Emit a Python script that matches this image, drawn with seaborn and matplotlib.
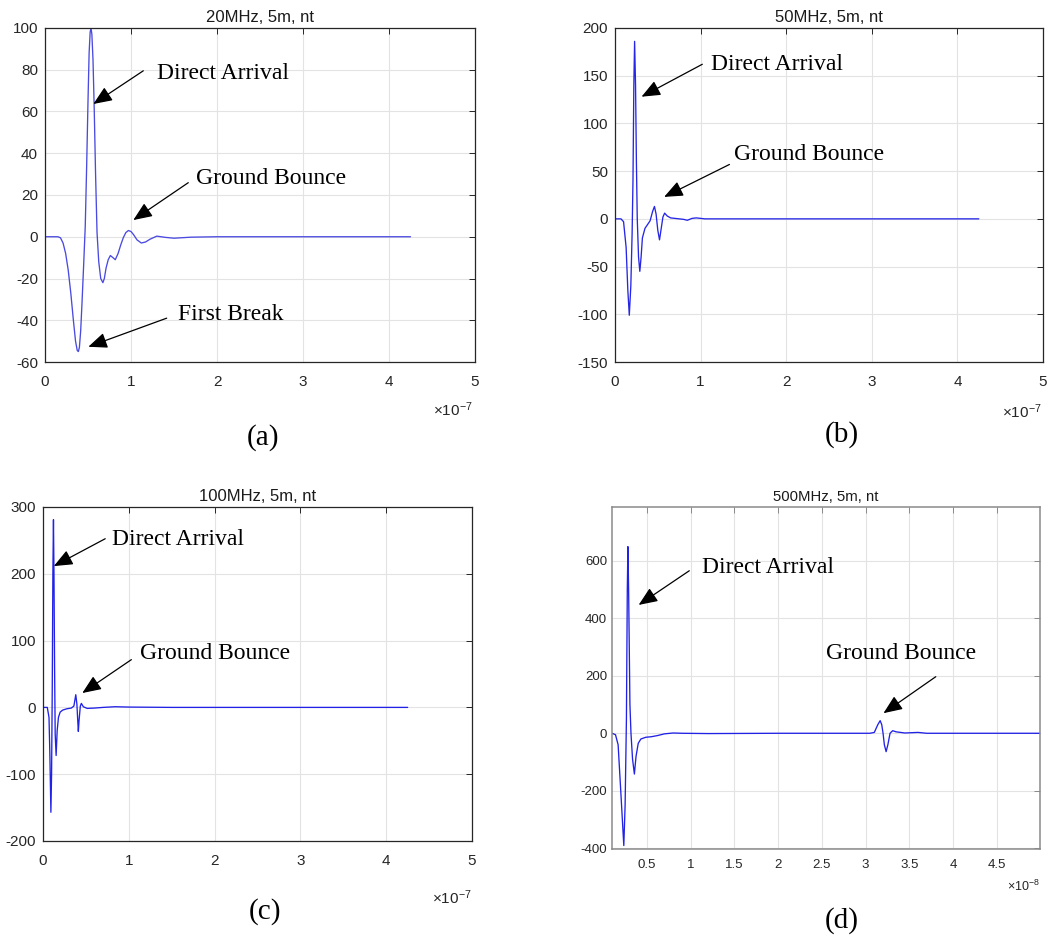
import numpy as np
import matplotlib
matplotlib.use("Agg")
import matplotlib.pyplot as plt
import seaborn as sns
from matplotlib.ticker import FuncFormatter, FixedLocator

# ---------------------------------------------------------------------------
# Received traces at 5 m offset for four source frequencies.
# Time axes are given in the units shown on each x axis (x1e-7 s or x1e-8 s).
# ---------------------------------------------------------------------------
t_20 = [0.00, 0.15, 0.18, 0.21, 0.24, 0.27, 0.30, 0.33, 0.355, 0.375, 0.388,
        0.40, 0.415, 0.43, 0.45, 0.468, 0.485, 0.50, 0.513, 0.525, 0.535,
        0.545, 0.558, 0.572, 0.588, 0.605, 0.625, 0.648, 0.673, 0.69, 0.71,
        0.735, 0.76, 0.79, 0.817, 0.85, 0.88, 0.91, 0.94, 0.97, 1.00, 1.03,
        1.07, 1.12, 1.17, 1.22, 1.30, 1.40, 1.50, 1.70, 2.00, 4.25]
v_20 = [0, 0, -0.5, -3, -8, -16, -27, -40, -50, -54.5, -55,
        -53, -45, -32, -13, 5, 35, 65, 88, 98, 100,
        97, 85, 62, 30, 2, -12, -20, -22, -20, -15,
        -11, -9, -10, -11, -8, -4, -0.5, 2, 3, 2.5, 1,
        -1.5, -3, -2.5, -1.2, 0.3, -0.3, -0.7, -0.2, 0, 0]

t_50 = [0.00, 0.07, 0.10, 0.13, 0.15, 0.167, 0.185, 0.20, 0.21, 0.22, 0.229,
        0.24, 0.25, 0.26, 0.275, 0.29, 0.305, 0.32, 0.35, 0.38, 0.41, 0.44,
        0.461, 0.48, 0.50, 0.52, 0.54, 0.56, 0.58, 0.61, 0.65, 0.70, 0.80,
        0.845, 0.90, 0.95, 1.05, 4.25]
v_50 = [0, 0, -3, -30, -75, -101, -70, -15, 40, 140, 186,
        140, 60, 0, -40, -55, -40, -20, -10, -6, -2, 8,
        13, 5, -12, -22, -10, 2, 6, 3, 1, 0.5, -0.5,
        -1.5, 0.5, 1, 0, 0]

t_100 = [0.00, 0.05, 0.07, 0.08, 0.092, 0.10, 0.108, 0.115, 0.122, 0.128,
         0.135, 0.142, 0.153, 0.165, 0.18, 0.20, 0.23, 0.28, 0.33, 0.36,
         0.382, 0.395, 0.405, 0.412, 0.42, 0.435, 0.447, 0.47, 0.515, 0.60,
         0.70, 0.84, 1.00, 1.50, 4.25]
v_100 = [0, 0, -15, -70, -157, -100, 30, 200, 281, 200,
         60, -40, -72, -35, -15, -7, -4, -2, -1, 2,
         19, 5, -20, -36, -20, 2, 6, 1, -1.5, -1,
         0, 1, 0.5, 0, 0]

t_500 = [0.10, 0.14, 0.17, 0.20, 0.235, 0.25, 0.265, 0.275, 0.282, 0.29,
         0.305, 0.317, 0.335, 0.356, 0.375, 0.40, 0.43, 0.485, 0.55, 0.62,
         0.70, 0.80, 0.90, 1.20, 2.00, 3.05, 3.10, 3.14, 3.167, 3.185,
         3.20, 3.215, 3.235, 3.255, 3.28, 3.31, 3.35, 3.45, 3.60, 3.70, 5.00]
v_500 = [0, -5, -40, -200, -391, -250, 50, 500, 650, 500,
         100, 0, -90, -142, -80, -35, -20, -14, -12, -8,
         -2, 1, 0, -1, 0, 0, 3, 30, 44, 30,
         0, -40, -64, -40, 0, 9, 5, 1, 3, 0, 0]

titles = ["20MHz, 5m, nt", "50MHz, 5m, nt", "100MHz, 5m, nt", "500MHz, 5m, nt"]
captions = ["(a)", "(b)", "(c)", "(d)"]
exponents = [-7, -7, -7, -8]

# ---------------------------------------------------------------------------
sns.set_theme(style="whitegrid")
plt.rcParams.update({
    "font.family": ["Liberation Sans", "DejaVu Sans"],
    "axes.unicode_minus": False,
    "mathtext.fontset": "custom",
    "mathtext.rm": "Liberation Sans",
    "mathtext.it": "Liberation Sans:italic",
    "mathtext.bf": "Liberation Sans:bold",
    "mathtext.default": "regular",
})

W, H = 1061, 936
fig = plt.figure(figsize=(W / 100, H / 100), dpi=100)
fig.patch.set_facecolor("white")


def add_axes_px(left, right, top, bottom):
    return fig.add_axes([left / W, 1 - bottom / H, (right - left) / W, (bottom - top) / H])


axes_px = [(45, 475, 28, 362), (615, 1043, 28, 362),
           (43, 472, 507, 841), (612, 1040, 507, 849)]
axs = [add_axes_px(*p) for p in axes_px]

series = [(t_20, v_20), (t_50, v_50), (t_100, v_100), (t_500, v_500)]
line_colors = ["#4a4ae0", "#2626e6", "#2222e6", "#2222e6"]
xlims = [(0, 5), (0, 5), (0, 5), (0.1, 4.995)]
xticks = [np.arange(0, 6, 1), np.arange(0, 6, 1), np.arange(0, 6, 1),
          np.arange(0.5, 5.0, 0.5)]
ylims = [(-60, 100), (-150, 200), (-200, 300), (-403, 788)]
yticks = [np.arange(-60, 101, 20), np.arange(-150, 201, 50),
          np.arange(-200, 301, 100), np.arange(-400, 601, 200)]

for i, ax in enumerate(axs):
    t, v = series[i]
    sns.lineplot(x=t, y=v, ax=ax, color=line_colors[i], linewidth=0.95,
                 estimator=None, sort=False)
    ax.set_xlim(*xlims[i])
    ax.set_ylim(*ylims[i])
    ax.xaxis.set_major_locator(FixedLocator(xticks[i]))
    ax.yaxis.set_major_locator(FixedLocator(yticks[i]))
    ax.xaxis.set_major_formatter(FuncFormatter(lambda x, p: f"{x:g}"))
    ax.yaxis.set_major_formatter(FuncFormatter(lambda y, p: f"{y:g}"))
    ax.set_facecolor("white")
    ax.grid(True, color="#e3e3e3", linewidth=0.8)
    small = (i == 3)
    spine_col = "#8a8a8a" if small else "#262626"
    for s in ax.spines.values():
        s.set_visible(True)
        s.set_color(spine_col)
        s.set_linewidth(1.1 if small else 0.9)
    ax.tick_params(direction="in", top=True, right=True, length=4, width=0.7,
                   color=spine_col, labelcolor="#262626",
                   labelsize=9.5 if small else 11)
    ax.tick_params(axis="x", pad=7 if small else 9.5)
    ax.tick_params(axis="y", pad=3.5 if small else 5)
    ax.set_title(titles[i], fontsize=10.7 if small else 12, color="#1a1a1a",
                 pad=4.5)
    ax.set_xlabel("")
    ax.set_ylabel("")

# Arrow + label annotations (tip, tail, text anchor in data coords)
arrow_kw = dict(arrowstyle="-|>,head_length=1.15,head_width=0.48",
                mutation_scale=10, lw=0.9, color="black",
                shrinkA=0, shrinkB=0)
notes = [
    (0, "Direct Arrival", (0.562, 63.6), (1.143, 79.5), (1.306, 78.3)),
    (0, "Ground Bounce", (1.027, 8.0), (1.666, 25.9), (1.756, 28.0)),
    (0, "First Break", (0.504, -52.7), (1.415, -39.0), (1.543, -37.2)),
    (1, "Direct Arrival", (0.310, 128), (1.02, 162), (1.124, 162)),
    (1, "Ground Bounce", (0.574, 23), (1.337, 57), (1.395, 67.6)),
    (2, "Direct Arrival", (0.126, 211.5), (0.725, 252.5), (0.80, 251.5)),
    (2, "Ground Bounce", (0.458, 21.5), (1.03, 71.5), (1.126, 80)),
    (3, "Direct Arrival", (0.405, 447), (0.984, 566), (1.125, 578)),
    (3, "Ground Bounce", (3.205, 70), (3.803, 197), (2.546, 278.5)),
]
for k, label, tip, tail, txt in notes:
    ax = axs[k]
    ax.annotate("", xy=tip, xytext=tail, arrowprops=arrow_kw)
    ax.text(txt[0], txt[1], label, ha="left", va="center",
            family="Liberation Serif", fontsize=17, color="black")

# Power-of-ten multipliers under the x axes
exp_pos = [(473, 410), (1042, 412), (472, 898), (1040, 886)]
for i, (x, y) in enumerate(exp_pos):
    fig.text(x / W, 1 - y / H, r"$\times$10$^{%d}$" % exponents[i],
             ha="right", va="center", color="#262626",
             fontsize=9 if i == 3 else 11)

# Sub-figure captions
cap_pos = [(263, 438), (842, 435), (265, 912), (842, 921)]
for c, (x, y) in zip(captions, cap_pos):
    fig.text(x / W, 1 - y / H, c, ha="center", va="center",
             family="Liberation Serif", fontsize=21, color="black")

fig.savefig("out.png", dpi=100, facecolor="white")
